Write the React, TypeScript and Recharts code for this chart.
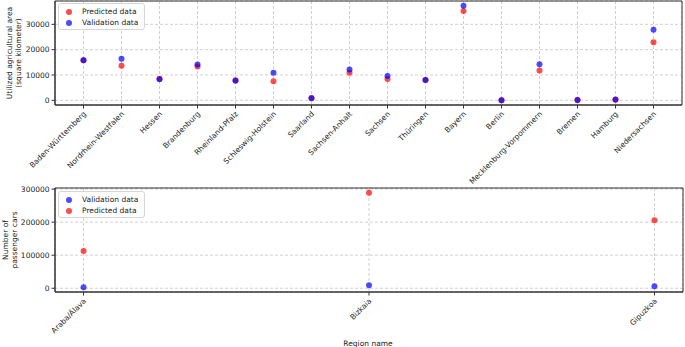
import React from "react";
import {
  ScatterChart,
  Scatter,
  XAxis,
  YAxis,
  CartesianGrid,
  ReferenceArea,
} from "recharts";

const FONT = "'DejaVu Sans', sans-serif";
const RED = "rgba(255,0,0,0.7)";
const BLUE = "rgba(0,0,255,0.7)";

const REGIONS_DE = [
  "Baden-Württemberg",
  "Nordrhein-Westfalen",
  "Hessen",
  "Brandenburg",
  "Rheinland-Pfalz",
  "Schleswig-Holstein",
  "Saarland",
  "Sachsen-Anhalt",
  "Sachsen",
  "Thüringen",
  "Bayern",
  "Berlin",
  "Mecklenburg-Vorpommern",
  "Bremen",
  "Hamburg",
  "Niedersachsen",
];
const AREA_PRED = [15800, 13700, 8500, 13400, 7900, 7500, 900, 10900, 8400, 8000, 35250, 30, 11800, 90, 200, 22900];
const AREA_VAL = [15800, 16400, 8300, 14100, 7700, 10900, 850, 12200, 9600, 8000, 37350, 20, 14200, 80, 280, 27900];
const AREA_TICKS = [0, 10000, 20000, 30000];

const REGIONS_ES = ["Araba/Álava", "Bizkaia", "Gipuzkoa"];
const CARS_VAL = [3000, 9000, 6000];
const CARS_PRED = [112700, 289000, 206000];
const CARS_TICKS = [0, 100000, 200000, 300000];

// matplotlib-style 5% margins
function pad(lo: number, hi: number): [number, number] {
  const m = (hi - lo) * 0.05;
  return [lo - m, hi + m];
}

const toPoints = (vals: number[]) => vals.map((v, i) => ({ i, v }));

const Dot = (color: string) => (p: any) => (
  <circle cx={p.cx} cy={p.cy} r={3} fill={color} />
);

const SlantTick = ({ x, y, payload, labels }: any) => (
  <g transform={`translate(${x + 3},${y + 4})`}>
    <text
      x={0}
      y={0}
      textAnchor="end"
      transform="rotate(-45)"
      fontSize={7.5}
      fontFamily={FONT}
      fill="#222"
    >
      {labels[payload.value]}
    </text>
  </g>
);

const LegendBox = ({
  items,
  left,
  top,
}: {
  items: { label: string; color: string }[];
  left: number;
  top: number;
}) => (
  <div
    style={{
      position: "absolute",
      left,
      top,
      border: "1px solid #d6d6d6",
      borderRadius: 3,
      background: "rgba(255,255,255,0.85)",
      padding: "2px 6px 1px 7px",
      fontFamily: FONT,
      fontSize: 7.5,
      lineHeight: "11px",
      color: "#222",
    }}
  >
    {items.map((it) => (
      <div key={it.label} style={{ display: "flex", alignItems: "center" }}>
        <span
          style={{
            display: "inline-block",
            width: 6,
            height: 6,
            borderRadius: 3,
            background: it.color,
            marginRight: 10,
          }}
        />
        {it.label}
      </div>
    ))}
  </div>
);

const axisStroke = "#333";

export default function App() {
  const deX = pad(0, REGIONS_DE.length - 1);
  const deY = pad(
    Math.min(...AREA_PRED, ...AREA_VAL),
    Math.max(...AREA_PRED, ...AREA_VAL)
  );
  const esX = pad(0, REGIONS_ES.length - 1);
  const esY = pad(
    Math.min(...CARS_PRED, ...CARS_VAL),
    Math.max(...CARS_PRED, ...CARS_VAL)
  );

  return (
    <div style={{ position: "absolute", left: 0, top: 0, width: 685, height: 347, background: "#fff" }}>
      <div style={{ position: "absolute", left: 0, top: 0 }}>
        <ScatterChart width={685} height={185} margin={{ top: 1, right: 3, left: 0, bottom: 0 }}>
          <CartesianGrid stroke="#d0d0d0" strokeDasharray="3 2" />
          <XAxis
            type="number"
            dataKey="i"
            domain={deX}
            allowDataOverflow
            ticks={REGIONS_DE.map((_, i) => i)}
            interval={0}
            height={80}
            tickSize={3.5}
            stroke={axisStroke}
            tick={<SlantTick labels={REGIONS_DE} />}
          />
          <YAxis
            type="number"
            dataKey="v"
            domain={deY}
            allowDataOverflow
            ticks={AREA_TICKS}
            interval={0}
            width={55}
            tickSize={3.5}
            stroke={axisStroke}
            tick={{ fontSize: 7.5, fill: "#222", fontFamily: FONT }}
          />
          <ReferenceArea x1={deX[0]} x2={deX[1]} y1={deY[0]} y2={deY[1]} fill="none" stroke={axisStroke} strokeOpacity={1} />
          <Scatter name="Predicted data" data={toPoints(AREA_PRED)} shape={Dot(RED)} isAnimationActive={false} />
          <Scatter name="Validation data" data={toPoints(AREA_VAL)} shape={Dot(BLUE)} isAnimationActive={false} />
        </ScatterChart>
      </div>

      <div style={{ position: "absolute", left: 0, top: 185 }}>
        <ScatterChart width={685} height={162} margin={{ top: 3, right: 2, left: 0, bottom: 0 }}>
          <CartesianGrid stroke="#d0d0d0" strokeDasharray="3 2" />
          <XAxis
            type="number"
            dataKey="i"
            domain={esX}
            allowDataOverflow
            ticks={REGIONS_ES.map((_, i) => i)}
            interval={0}
            height={55}
            tickSize={3.5}
            stroke={axisStroke}
            tick={<SlantTick labels={REGIONS_ES} />}
          />
          <YAxis
            type="number"
            dataKey="v"
            domain={esY}
            allowDataOverflow
            ticks={CARS_TICKS}
            interval={0}
            width={55}
            tickSize={3.5}
            stroke={axisStroke}
            tick={{ fontSize: 7.5, fill: "#222", fontFamily: FONT }}
          />
          <ReferenceArea x1={esX[0]} x2={esX[1]} y1={esY[0]} y2={esY[1]} fill="none" stroke={axisStroke} strokeOpacity={1} />
          <Scatter name="Validation data" data={toPoints(CARS_VAL)} shape={Dot(BLUE)} isAnimationActive={false} />
          <Scatter name="Predicted data" data={toPoints(CARS_PRED)} shape={Dot(RED)} isAnimationActive={false} />
        </ScatterChart>
      </div>

      <LegendBox
        left={58}
        top={3}
        items={[
          { label: "Predicted data", color: RED },
          { label: "Validation data", color: BLUE },
        ]}
      />
      <LegendBox
        left={58}
        top={191}
        items={[
          { label: "Validation data", color: BLUE },
          { label: "Predicted data", color: RED },
        ]}
      />

      <svg width={685} height={347} style={{ position: "absolute", left: 0, top: 0, pointerEvents: "none" }}>
        <g fontFamily={FONT} fontSize={7.5} fill="#222" textAnchor="middle">
          <text transform="translate(12,53) rotate(-90)">Utilized agricultural area</text>
          <text transform="translate(21,53) rotate(-90)">(square kilometer)</text>
          <text transform="translate(8,240) rotate(-90)">Number of</text>
          <text transform="translate(17,240) rotate(-90)">passenger cars</text>
          <text x={368} y={346}>Region name</text>
        </g>
      </svg>
    </div>
  );
}
